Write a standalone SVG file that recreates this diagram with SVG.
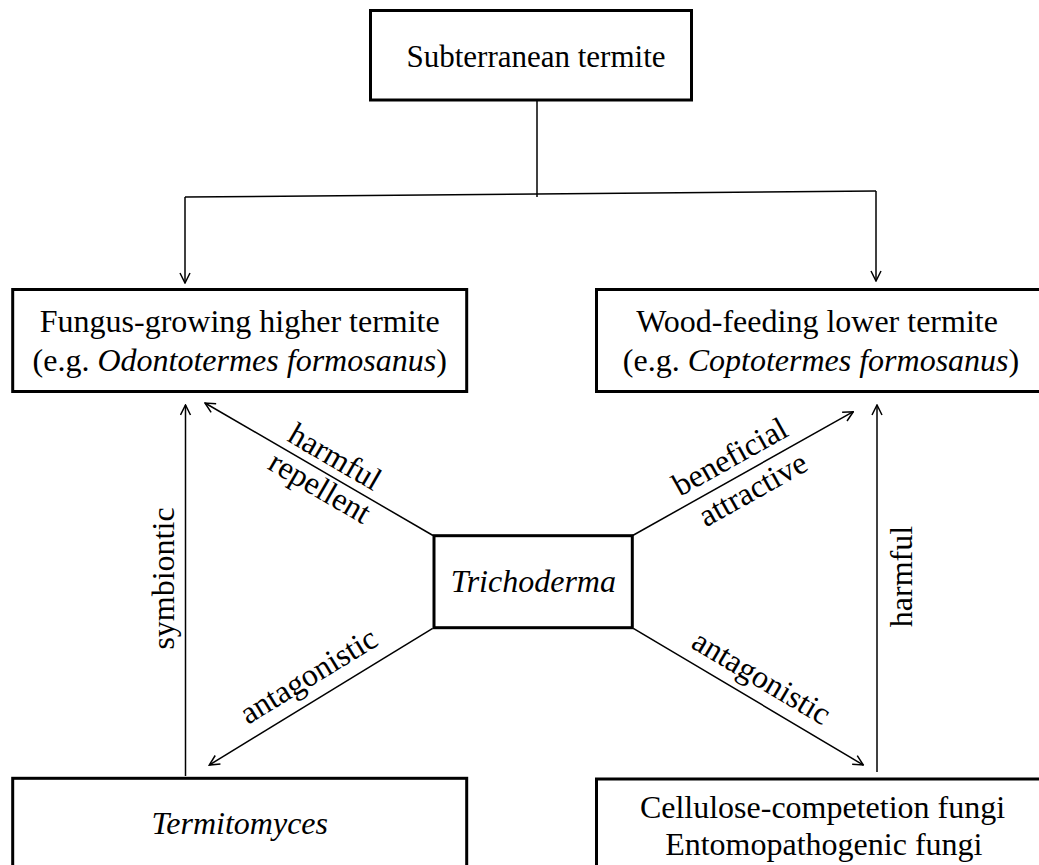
<svg xmlns="http://www.w3.org/2000/svg" width="1039" height="865" viewBox="0 0 1039 865">
  <style>
    .box { fill: #ffffff; stroke: #000000; stroke-width: 3; }
    .t { font-family: "Liberation Serif", "Times New Roman", serif; font-size: 32px; fill: #000000; text-anchor: middle; }
    .i { font-style: italic; }
    .edge { fill: none; stroke: #000000; stroke-width: 1.5; }
  </style>
  <defs>
    <marker id="arr" viewBox="0 0 12 12" refX="11" refY="6" markerWidth="12" markerHeight="12" markerUnits="userSpaceOnUse" orient="auto">
      <path d="M1,1 L11,6 L1,11" fill="none" stroke="#000000" stroke-width="1.5"/>
    </marker>
  </defs>
  <rect width="1039" height="865" fill="#ffffff"/>

  <g id="connectors">
    <path class="edge" d="M537,100 L537,197"/>
    <path class="edge" d="M185,197 L876,191"/>
    <path class="edge" d="M185,197 L185,283" marker-end="url(#arr)"/>
    <path class="edge" d="M876,191 L876,281" marker-end="url(#arr)"/>
    <path class="edge" d="M433,535.5 L205,403" marker-end="url(#arr)"/>
    <path class="edge" d="M632.7,535.5 L853.3,411.7" marker-end="url(#arr)"/>
    <path class="edge" d="M432.7,628.3 L209.3,765" marker-end="url(#arr)"/>
    <path class="edge" d="M633.3,628.3 L863.3,765" marker-end="url(#arr)"/>
    <path class="edge" d="M185.5,776 L185.5,405" marker-end="url(#arr)"/>
    <path class="edge" d="M877,772 L877,405" marker-end="url(#arr)"/>

    <text class="t" transform="translate(329.7,465.8) rotate(30.16)">harmful</text>
    <text class="t" transform="translate(314.6,496.4) rotate(30.16)">repellent</text>
    <text class="t" transform="translate(735.1,465.9) rotate(-29.3)">beneficial</text>
    <text class="t" transform="translate(758,498.4) rotate(-29.3)">attractive</text>
    <text class="t" transform="translate(313.9,684.6) rotate(-31.5)">antagonistic</text>
    <text class="t" transform="translate(756.2,686.4) rotate(30.7)">antagonistic</text>
    <text class="t" transform="translate(174,578.5) rotate(-90)">symbiontic</text>
    <text class="t" transform="translate(912,576.5) rotate(-90)">harmful</text>
  </g>

  <g id="node-subterranean">
    <rect class="box" x="370.5" y="10.5" width="321" height="89.5"/>
    <text class="t" x="536" y="66.7" style="font-size:31px">Subterranean termite</text>
  </g>

  <g id="node-fungus-growing">
    <rect class="box" x="12.7" y="289.5" width="454" height="102"/>
    <text class="t" x="239.7" y="331.7">Fungus-growing higher termite</text>
    <text class="t" x="239.7" y="370.5">(e.g. <tspan class="i">Odontotermes formosanus</tspan>)</text>
  </g>

  <g id="node-wood-feeding">
    <rect class="box" x="596.5" y="289.5" width="450" height="102"/>
    <text class="t" x="817" y="331.7">Wood-feeding lower termite</text>
    <text class="t" x="821" y="370.5">(e.g. <tspan class="i">Coptotermes formosanus</tspan>)</text>
  </g>

  <g id="node-trichoderma">
    <rect class="box" x="434" y="535.7" width="198.3" height="92"/>
    <text class="t i" x="533.3" y="591.7">Trichoderma</text>
  </g>

  <g id="node-termitomyces">
    <rect class="box" x="12.7" y="778.3" width="454" height="102"/>
    <text class="t i" x="239.7" y="834">Termitomyces</text>
  </g>

  <g id="node-fungi">
    <rect class="box" x="596.5" y="779" width="450" height="102"/>
    <text class="t" x="822.5" y="818">Cellulose-competetion fungi</text>
    <text class="t" x="823.8" y="855">Entomopathogenic fungi</text>
  </g>
</svg>
